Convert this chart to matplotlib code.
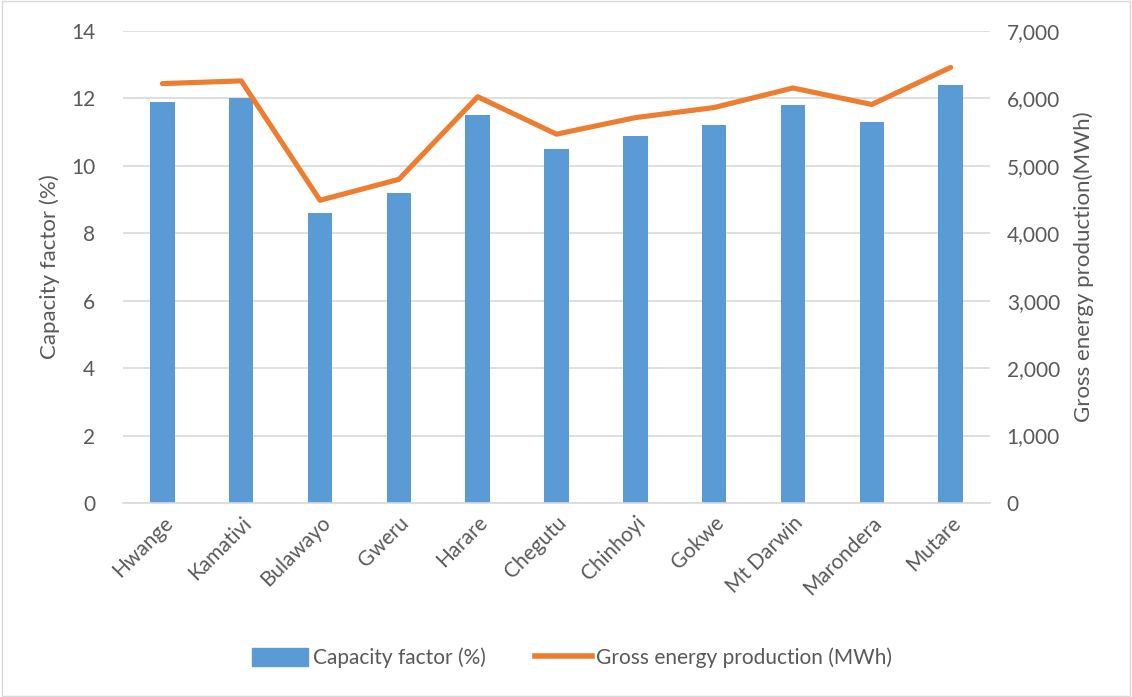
import matplotlib.pyplot as plt
from matplotlib.ticker import FuncFormatter
from matplotlib.lines import Line2D
from matplotlib.patches import Patch

plt.rcParams['font.family'] = ['Lato', 'DejaVu Sans']

sites = ["Hwange", "Kamativi", "Bulawayo", "Gweru", "Harare", "Chegutu",
         "Chinhoyi", "Gokwe", "Mt Darwin", "Marondera", "Mutare"]
capacity_factor = [11.9, 12.0, 8.6, 9.2, 11.5, 10.5, 10.9, 11.2, 11.8, 11.3, 12.4]
energy_mwh = [6220, 6260, 4490, 4800, 6025, 5470, 5715, 5865, 6155, 5910, 6460]

blue = "#5B9BD5"
orange = "#ED7D31"
grey = "#595959"

fig = plt.figure(figsize=(11.32, 6.97), dpi=100)
ax = fig.add_axes([123 / 1132, 1 - 503 / 697, (990 - 123) / 1132, (503 - 31) / 697])
ax2 = ax.twinx()

x = range(len(sites))
ax.bar(x, capacity_factor, width=0.31, color=blue, zorder=2)
ax2.plot(x, energy_mwh, color=orange, lw=3.7, solid_capstyle='round', zorder=3)

ax.set_ylim(0, 14)
ax.set_yticks(range(0, 15, 2))
ax2.set_ylim(0, 7000)
ax2.set_yticks(range(0, 7001, 1000))
ax2.yaxis.set_major_formatter(FuncFormatter(lambda v, p: f"{int(v):,}"))
ax.set_xlim(-0.5, len(sites) - 0.5)

ax.grid(axis='y', color="#D9D9D9", lw=1.2, zorder=0)
ax.set_axisbelow(True)
for a in (ax, ax2):
    for s in a.spines.values():
        s.set_visible(False)
    a.tick_params(length=0, colors=grey, labelsize=15)
ax.spines['bottom'].set_visible(True)
ax.spines['bottom'].set_color("#D9D9D9")
ax.spines['bottom'].set_linewidth(1.2)

ax.set_xticks(list(x))
ax.set_xticklabels(sites, rotation=45, ha='right', rotation_mode='anchor', fontsize=15, color=grey)
ax.tick_params(axis='y', pad=20)
ax.tick_params(axis='x', pad=7)
ax2.tick_params(axis='y', pad=12)

ax.set_ylabel("Capacity factor (%)", fontsize=16, color=grey, labelpad=8)
ax2.set_ylabel("Gross energy production(MWh)", fontsize=16, color=grey, labelpad=10)

handles = [Patch(color=blue, label="Capacity factor (%)"),
           Line2D([0], [0], color=orange, lw=4, label="Gross energy production (MWh)")]
fig.legend(handles=handles, loc='center', bbox_to_anchor=(572 / 1132, 1 - 658 / 697), ncol=2,
           frameon=False, fontsize=15, labelcolor=grey, handlelength=2.7, handleheight=1.0,
           columnspacing=2.4, handletextpad=0.2)

fig.patches.append(plt.Rectangle((0.002, 0.002), 0.996, 0.996, transform=fig.transFigure,
                                 fill=False, edgecolor="#D9D9D9", lw=1))

fig.savefig("out.png", dpi=100)
